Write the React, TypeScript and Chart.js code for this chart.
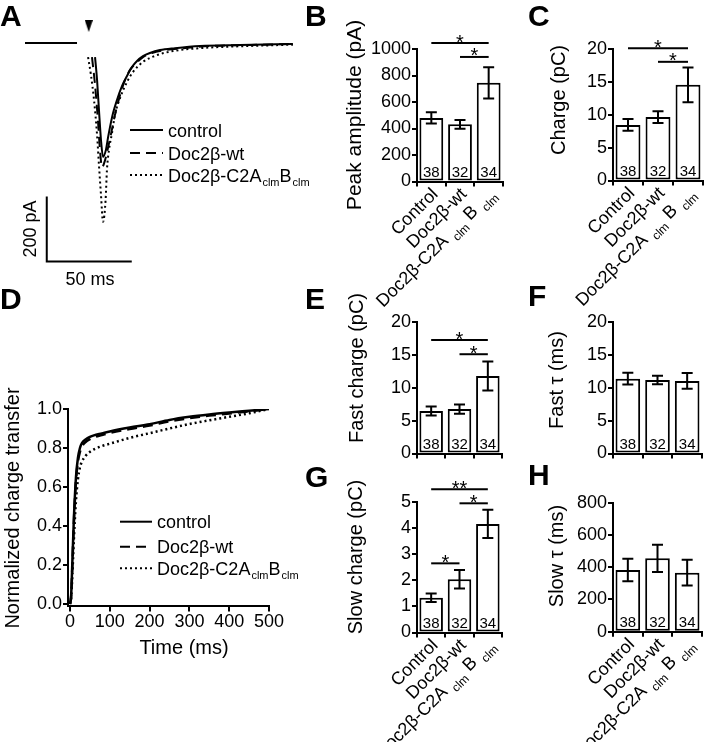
import React, { useEffect, useRef } from 'react';
import { Chart, registerables } from 'chart.js';

Chart.register(...registerables);

const FONT = '"Liberation Sans", Arial, Helvetica, sans-serif';
Chart.defaults.font.family = FONT;
Chart.defaults.color = '#000';

// ---------------- Panel A: example EPSC traces (time in ms, current in pA)
const baselineTime = [0, 30.6];
const baselineCurrent = [0, 0];

const controlTraceTime = [41.2, 42.4, 43.5, 44.7, 45.9, 47.6, 48.8, 50.0, 51.8, 54.1, 57.1, 60.0, 62.9, 65.9, 69.4, 73.5, 79.4, 88.2, 102.9, 126.5, 157.6];
const controlTraceCurrent = [-44, -116, -209, -303, -356, -334, -297, -263, -219, -178, -134, -103, -75, -56, -41, -31, -22, -16, -9, -6, -3];

const wtTraceTime = [39.4, 41.2, 42.9, 44.1, 45.3, 47.1, 48.8, 50.6, 52.9, 55.9, 58.8, 61.8, 65.3, 69.4, 74.7, 82.4, 92.9, 108.8, 132.4, 157.6];
const wtTraceCurrent = [-44, -131, -241, -334, -388, -366, -328, -284, -225, -163, -116, -84, -63, -44, -31, -22, -16, -9, -6, -3];

const clmTraceTime = [37.1, 38.8, 40.6, 42.4, 43.5, 44.7, 45.9, 47.4, 48.2, 49.4, 51.2, 52.9, 55.9, 60.0, 63.5, 69.4, 77.6, 87.1, 102.9, 122.4, 157.6];
const clmTraceCurrent = [-44, -100, -178, -288, -381, -475, -559, -491, -397, -334, -281, -225, -172, -122, -91, -59, -38, -25, -16, -11, -5];

const stimTime = [37.5];
const stimCurrent = [53];

const scaleBarTime = [12.8, 12.8, 62.8];
const scaleBarCurrent = [-480, -683, -683];
const scaleBarLabels = ['200 pA', '50 ms'];

// ---------------- Legend (A and D)
const legendLabels = ['control', 'Doc2β-wt', 'Doc2β-C2A_{clm}B_{clm}'];
const legendDashes = [[], [10, 6], [2, 3]];

// ---------------- Panel D: normalized cumulative charge transfer
const cumTime = [0, 3, 6, 10, 15, 20, 25, 30, 40, 50, 60, 80, 100, 150, 200, 250, 300, 350, 400, 450, 500];
const cumControl = [0, 0.05, 0.22, 0.45, 0.65, 0.75, 0.8, 0.825, 0.845, 0.857, 0.865, 0.875, 0.885, 0.905, 0.922, 0.944, 0.96, 0.972, 0.982, 0.991, 1.0];
const cumWt = [0, 0.04, 0.2, 0.43, 0.63, 0.73, 0.78, 0.808, 0.832, 0.845, 0.855, 0.866, 0.877, 0.897, 0.915, 0.937, 0.953, 0.966, 0.977, 0.988, 1.0];
const cumClm = [0, 0.03, 0.15, 0.34, 0.53, 0.64, 0.7, 0.73, 0.762, 0.78, 0.793, 0.81, 0.822, 0.852, 0.876, 0.9, 0.923, 0.942, 0.96, 0.978, 1.0];
const cumTimeTicks = [0, 100, 200, 300, 400, 500];
const cumFracTicks = [0, 0.2, 0.4, 0.6, 0.8, 1.0];

// ---------------- Bar panels
const groups = ['Control', 'Doc2β-wt', 'Doc2β-C2A _{clm} B _{clm}'];
const cellCounts = [38, 32, 34];

const peakMean = [480, 432, 745];
const peakSem = [42, 33, 118];
const peakTicks = [0, 200, 400, 600, 800, 1000];

const chargeMean = [8.45, 9.65, 14.55];
const chargeSem = [0.9, 0.9, 2.65];
const chargeTicks = [0, 5, 10, 15, 20];

const fastChargeMean = [6.45, 6.75, 11.8];
const fastChargeSem = [0.68, 0.69, 2.2];
const fastChargeTicks = [0, 5, 10, 15, 20];

const fastTauMean = [11.38, 11.18, 11.03];
const fastTauSem = [0.9, 0.65, 1.2];
const fastTauTicks = [0, 5, 10, 15, 20];

const slowChargeMean = [1.33, 2.04, 4.16];
const slowChargeSem = [0.16, 0.35, 0.54];
const slowChargeTicks = [0, 1, 2, 3, 4, 5];

const slowTauMean = [383, 455, 366];
const slowTauSem = [70, 85, 80];
const slowTauTicks = [0, 200, 400, 600, 800];

// significance brackets: [from group, to group, label, bracket height in axis units]
const peakSig: [number, number, string, number][] = [[0, 2, '*', 1045], [1, 2, '*', 940]];
const chargeSig: [number, number, string, number][] = [[0, 2, '*', 20.1], [1, 2, '*', 18.05]];
const fastChargeSig: [number, number, string, number][] = [[0, 2, '*', 17.25], [1, 2, '*', 15.1]];
const fastTauSig: [number, number, string, number][] = [];
const slowChargeSig: [number, number, string, number][] = [[0, 2, '**', 5.49], [1, 2, '*', 4.95], [0, 1, '*', 2.65]];
const slowTauSig: [number, number, string, number][] = [];

// ---------------- rich text helpers
type Run = { t: string; sub: boolean };
function parseRich(s: string): Run[] {
  const out: Run[] = [];
  const re = /_\{([^}]*)\}/g;
  let last = 0;
  let m: RegExpExecArray | null;
  while ((m = re.exec(s))) {
    if (m.index > last) out.push({ t: s.slice(last, m.index), sub: false });
    out.push({ t: m[1], sub: true });
    last = re.lastIndex;
  }
  if (last < s.length) out.push({ t: s.slice(last), sub: false });
  return out;
}
const plain = (s: string) => s.replace(/ ?_\{([^}]*)\}/g, '$1');

function drawRich(ctx: CanvasRenderingContext2D, text: string, size: number, align: string, subDrop = 0.25, subScale = 0.62) {
  const runs = parseRich(text);
  const subSize = Math.round(size * subScale);
  const ws = runs.map((r) => {
    ctx.font = `${r.sub ? subSize : size}px ${FONT}`;
    return ctx.measureText(r.t).width + (r.sub ? 1 : 0);
  });
  const total = ws.reduce((a, b) => a + b, 0);
  let x = align === 'left' ? 0 : align === 'center' ? -total / 2 : -total;
  const base = size * 0.36;
  ctx.textAlign = 'left';
  ctx.textBaseline = 'alphabetic';
  runs.forEach((r, i) => {
    ctx.font = `${r.sub ? subSize : size}px ${FONT}`;
    ctx.fillText(r.t, x + (r.sub ? 1 : 0), base + (r.sub ? size * subDrop : 0));
    x += ws[i];
  });
}

const pageTextPlugin = {
  id: 'pageTexts',
  afterDraw(chart: any, _a: any, opts: any) {
    const ctx: CanvasRenderingContext2D = chart.ctx;
    const ox = opts.ox || 0;
    const oy = opts.oy || 0;
    ctx.save();
    ctx.fillStyle = '#000';
    ctx.strokeStyle = '#000';
    (opts.lines || []).forEach((l: any) => {
      ctx.lineWidth = l.w || 2;
      ctx.setLineDash(l.dash ? [...l.dash] : []);
      ctx.beginPath();
      ctx.moveTo(l.x1 - ox, l.y1 - oy);
      ctx.lineTo(l.x2 - ox, l.y2 - oy);
      ctx.stroke();
    });
    ctx.setLineDash([]);
    (opts.texts || []).forEach((t: any) => {
      ctx.save();
      ctx.translate(t.x - ox, t.y - oy);
      if (t.rot) ctx.rotate((t.rot * Math.PI) / 180);
      drawRich(ctx, t.text, t.size, t.align || 'left');
      ctx.restore();
    });
    ctx.restore();
  },
};

const barExtrasPlugin = {
  id: 'barExtras',
  afterDatasetsDraw(chart: any, _a: any, o: any) {
    const ctx: CanvasRenderingContext2D = chart.ctx;
    const meta = chart.getDatasetMeta(0);
    const ys = chart.scales.y;
    const xs = chart.scales.x;
    const mean: number[] = chart.data.datasets[0].data;
    ctx.save();
    ctx.strokeStyle = '#000';
    ctx.fillStyle = '#000';
    ctx.lineWidth = 2;
    meta.data.forEach((bar: any, i: number) => {
      const cx = bar.x;
      const top = ys.getPixelForValue(mean[i] + o.sem[i]);
      const bot = ys.getPixelForValue(mean[i] - o.sem[i]);
      ctx.beginPath();
      ctx.moveTo(cx, top);
      ctx.lineTo(cx, bot);
      ctx.moveTo(cx - 5.5, top);
      ctx.lineTo(cx + 5.5, top);
      ctx.moveTo(cx - 5.5, bot);
      ctx.lineTo(cx + 5.5, bot);
      ctx.stroke();
      ctx.font = `15px ${FONT}`;
      ctx.textAlign = 'center';
      ctx.textBaseline = 'alphabetic';
      ctx.fillText(String(o.counts[i]), cx, ys.bottom - 4.5);
    });
    (o.sig || []).forEach((s: any) => {
      const x1 = meta.data[s[0]].x;
      const x2 = meta.data[s[1]].x;
      const py = ys.getPixelForValue(s[3]);
      ctx.beginPath();
      ctx.moveTo(x1, py);
      ctx.lineTo(x2, py);
      ctx.stroke();
      ctx.font = `20px ${FONT}`;
      ctx.textAlign = 'center';
      ctx.textBaseline = 'alphabetic';
      ctx.fillText(s[2], (x1 + x2) / 2, py + 5.5);
    });
    if (o.showLabels) {
      groups.forEach((g, i) => {
        ctx.save();
        ctx.translate(meta.data[i].x + 3, xs.top + 9);
        ctx.rotate(-Math.PI / 4);
        drawRich(ctx, g, 18, 'right', 0.3, 0.64);
        ctx.restore();
      });
    }
    ctx.restore();
  },
};

type Box = { l: number; t: number; w: number; h: number };
type Area = { l: number; r: number; t: number; b: number };

function makeTriangle() {
  const c = document.createElement('canvas');
  c.width = 8;
  c.height = 12;
  const g = c.getContext('2d')!;
  g.fillStyle = '#000';
  g.beginPath();
  g.moveTo(0, 0);
  g.lineTo(8, 0);
  g.lineTo(4, 12);
  g.closePath();
  g.fill();
  return c;
}

const zip = (xs: number[], ys: number[]) => xs.map((x, i) => ({ x, y: ys[i] }));

const BOX_A: Box = { l: 0, t: 10, w: 328, h: 290 };
function configA() {
  const line = (data: any, dash: number[], width = 2) => ({
    data,
    borderColor: '#000',
    borderWidth: width,
    borderDash: dash,
    pointRadius: 0,
    cubicInterpolationMode: 'monotone',
    fill: false,
    clip: false,
  });
  const ly = [130, 153, 175];
  const legendLines = legendLabels.map((_, i) => ({ x1: 130, x2: 163, y1: ly[i], y2: ly[i], dash: legendDashes[i], w: 2 }));
  const legendTexts = legendLabels.map((t, i) => ({ text: t, x: 168, y: ly[i] + 0.5, size: 18 }));
  return {
    type: 'line',
    data: {
      datasets: [
        line(zip(baselineTime, baselineCurrent), []),
        line(zip(controlTraceTime, controlTraceCurrent), []),
        line(zip(wtTraceTime, wtTraceCurrent), legendDashes[1]),
        line(zip(clmTraceTime, clmTraceCurrent), legendDashes[2]),
        { ...line(zip(scaleBarTime, scaleBarCurrent), []), cubicInterpolationMode: 'default', tension: 0 },
        { data: zip(stimTime, stimCurrent), showLine: false, pointStyle: makeTriangle(), pointRadius: 6, clip: false },
      ],
    },
    options: {
      responsive: false,
      animation: false,
      devicePixelRatio: 1,
      events: [],
      layout: { padding: { left: 25, top: 10, right: BOX_A.w - 297, bottom: 10 } },
      plugins: {
        legend: { display: false },
        tooltip: { enabled: false },
        pageTexts: {
          ox: BOX_A.l,
          oy: BOX_A.t,
          lines: legendLines,
          texts: [
            { text: scaleBarLabels[0], x: 30, y: 229, size: 18, rot: -90, align: 'center' },
            { text: scaleBarLabels[1], x: 90, y: 279, size: 18, align: 'center' },
            ...legendTexts,
          ],
        },
      },
      scales: {
        x: { type: 'linear', display: false, min: 0, max: 160 },
        y: { type: 'linear', display: false, min: -772, max: 72 },
      },
    },
    plugins: [pageTextPlugin],
  };
}

const BOX_D: Box = { l: 0, t: 370, w: 320, h: 300 };
function configD() {
  const area: Area = { l: 68, r: 269, t: 409, b: 606.4 };
  const line = (data: any, dash: number[]) => ({
    data,
    borderColor: '#000',
    borderWidth: 2.5,
    borderDash: dash,
    pointRadius: 0,
    cubicInterpolationMode: 'monotone',
    fill: false,
  });
  const ly = [521.7, 546.7, 568.3];
  return {
    type: 'line',
    data: {
      datasets: [
        line(zip(cumTime, cumClm), legendDashes[2]),
        line(zip(cumTime, cumWt), legendDashes[1]),
        line(zip(cumTime, cumControl), []),
      ],
    },
    options: {
      responsive: false,
      animation: false,
      devicePixelRatio: 1,
      events: [],
      layout: { padding: { left: 0, top: area.t - BOX_D.t, right: BOX_D.l + BOX_D.w - area.r, bottom: 0 } },
      plugins: {
        legend: { display: false },
        tooltip: { enabled: false },
        pageTexts: {
          ox: BOX_D.l,
          oy: BOX_D.t,
          lines: legendLabels.map((_, i) => ({ x1: 120, x2: 152, y1: ly[i], y2: ly[i], dash: legendDashes[i], w: 2 })),
          texts: [
            { text: 'Normalized charge transfer', x: 12, y: 508, size: 20, rot: -90, align: 'center' },
            { text: 'Time (ms)', x: 184, y: 647, size: 20, align: 'center' },
            ...legendLabels.map((t, i) => ({ text: t, x: 157, y: ly[i], size: 18 })),
          ],
        },
      },
      scales: {
        x: {
          type: 'linear',
          min: -5,
          max: 500,
          afterBuildTicks: (s: any) => { s.ticks = cumTimeTicks.map((v) => ({ value: v })); },
          afterFit: (s: any) => { s.height = BOX_D.t + BOX_D.h - area.b; },
          grid: { drawOnChartArea: false, drawTicks: true, tickLength: 5, color: '#000', lineWidth: 2 },
          border: { display: true, color: '#000', width: 2 },
          ticks: { color: '#000', font: { size: 18, family: FONT }, padding: 0, maxRotation: 0, callback: (v: any) => String(v) },
        },
        y: {
          type: 'linear',
          min: -0.012,
          max: 1.0,
          afterBuildTicks: (s: any) => { s.ticks = cumFracTicks.map((v) => ({ value: v })); },
          afterFit: (s: any) => { s.width = area.l - BOX_D.l; },
          grid: { drawOnChartArea: false, drawTicks: true, tickLength: 5, color: '#000', lineWidth: 2 },
          border: { display: true, color: '#000', width: 2 },
          ticks: { color: '#000', font: { size: 18, family: FONT }, padding: 1, callback: (v: any) => Number(v).toFixed(1) },
        },
      },
    },
    plugins: [pageTextPlugin],
  };
}

type BarSpec = {
  box: Box;
  area: Area;
  mean: number[];
  sem: number[];
  max: number;
  ticks: number[];
  sig: [number, number, string, number][];
  labels: boolean;
  title: string;
  titleAt: [number, number];
  titleSize: number;
};

function barConfig(p: BarSpec) {
  const { box, area } = p;
  return {
    type: 'bar',
    data: {
      labels: groups.map(plain),
      datasets: [
        {
          data: p.mean,
          backgroundColor: '#fff',
          borderColor: '#000',
          borderWidth: 2,
          borderSkipped: false,
          barPercentage: 0.83,
          categoryPercentage: 1,
        },
      ],
    },
    options: {
      responsive: false,
      animation: false,
      devicePixelRatio: 1,
      events: [],
      layout: { padding: { left: 0, top: area.t - box.t, right: box.l + box.w - area.r, bottom: 0 } },
      plugins: {
        legend: { display: false },
        tooltip: { enabled: false },
        barExtras: { sem: p.sem, counts: cellCounts, sig: p.sig, showLabels: p.labels },
        pageTexts: {
          ox: box.l,
          oy: box.t,
          texts: [{ text: p.title, x: p.titleAt[0], y: p.titleAt[1], size: p.titleSize, rot: -90, align: 'center' }],
        },
      },
      scales: {
        x: {
          type: 'category',
          offset: true,
          afterFit: (s: any) => { s.height = box.t + box.h - area.b; },
          grid: { offset: true, drawOnChartArea: false, drawTicks: true, tickLength: 5, color: '#000', lineWidth: 2 },
          border: { display: true, color: '#000', width: 2 },
          ticks: { display: false },
        },
        y: {
          type: 'linear',
          min: 0,
          max: p.max,
          afterBuildTicks: (s: any) => { s.ticks = p.ticks.map((v) => ({ value: v })); },
          afterFit: (s: any) => { s.width = area.l - box.l; },
          grid: { drawOnChartArea: false, drawTicks: true, tickLength: 5, color: '#000', lineWidth: 2 },
          border: { display: true, color: '#000', width: 2 },
          ticks: { color: '#000', font: { size: 18, family: FONT }, padding: 1, callback: (v: any) => String(v) },
        },
      },
    },
    plugins: [barExtrasPlugin, pageTextPlugin],
  };
}

const barSpecs: BarSpec[] = [
  { box: { l: 330, t: 0, w: 190, h: 345 }, area: { l: 417, r: 503, t: 49, b: 181.5 }, mean: peakMean, sem: peakSem, max: 1000, ticks: peakTicks, sig: peakSig, labels: true, title: 'Peak amplitude (pA)', titleAt: [353, 115], titleSize: 21 },
  { box: { l: 525, t: 0, w: 187, h: 345 }, area: { l: 613, r: 703, t: 49, b: 180.5 }, mean: chargeMean, sem: chargeSem, max: 20, ticks: chargeTicks, sig: chargeSig, labels: true, title: 'Charge (pC)', titleAt: [558, 100], titleSize: 20 },
  { box: { l: 330, t: 285, w: 190, h: 190 }, area: { l: 417, r: 502, t: 322, b: 453.5 }, mean: fastChargeMean, sem: fastChargeSem, max: 20, ticks: fastChargeTicks, sig: fastChargeSig, labels: false, title: 'Fast charge (pC)', titleAt: [356, 368], titleSize: 20 },
  { box: { l: 525, t: 285, w: 187, h: 190 }, area: { l: 613, r: 702, t: 322, b: 453.5 }, mean: fastTauMean, sem: fastTauSem, max: 20, ticks: fastTauTicks, sig: fastTauSig, labels: false, title: 'Fast τ (ms)', titleAt: [556, 380], titleSize: 20 },
  { box: { l: 330, t: 465, w: 190, h: 277 }, area: { l: 417, r: 502, t: 502, b: 632.5 }, mean: slowChargeMean, sem: slowChargeSem, max: 5, ticks: slowChargeTicks, sig: slowChargeSig, labels: true, title: 'Slow charge (pC)', titleAt: [355, 557], titleSize: 20 },
  { box: { l: 525, t: 465, w: 187, h: 277 }, area: { l: 613, r: 702, t: 502.7, b: 631.7 }, mean: slowTauMean, sem: slowTauSem, max: 800, ticks: slowTauTicks, sig: slowTauSig, labels: true, title: 'Slow τ (ms)', titleAt: [556, 556], titleSize: 20 },
];

const panelLetters: [string, number, number][] = [
  ['A', 0, 5], ['B', 305, 5], ['C', 528, 5],
  ['D', 0, 288], ['E', 305, 288], ['F', 528, 285],
  ['G', 305, 466], ['H', 528, 464],
];

function ChartCanvas({ box, make }: { box: Box; make: () => any }) {
  const ref = useRef<HTMLCanvasElement>(null);
  useEffect(() => {
    const chart = new Chart(ref.current as HTMLCanvasElement, make());
    return () => chart.destroy();
  }, []);
  return (
    <canvas
      ref={ref}
      width={box.w}
      height={box.h}
      style={{ position: 'absolute', left: box.l, top: box.t, width: box.w, height: box.h }}
    />
  );
}

export default function App() {
  return (
    <div style={{ position: 'absolute', left: 0, top: 0, width: 712, height: 742, background: '#fff', overflow: 'hidden' }}>
      <ChartCanvas box={BOX_A} make={configA} />
      <ChartCanvas box={BOX_D} make={configD} />
      {barSpecs.map((s, i) => (
        <ChartCanvas key={i} box={s.box} make={() => barConfig(s)} />
      ))}
      {panelLetters.map(([t, x, y]) => (
        <div
          key={t}
          style={{ position: 'absolute', left: x, top: y - 4, font: `bold 30px ${FONT}`, lineHeight: '30px', color: '#000' }}
        >
          {t}
        </div>
      ))}
    </div>
  );
}
